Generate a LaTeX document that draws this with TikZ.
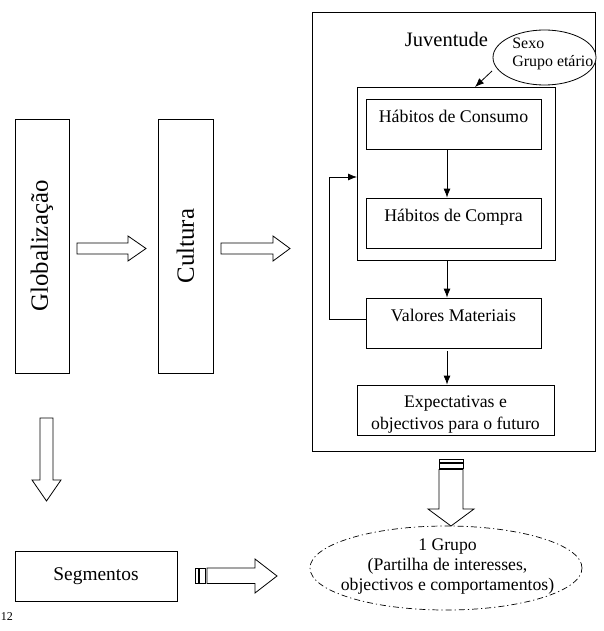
\documentclass[tikz,border=0pt]{standalone}
\usepackage{fontspec}
\setmainfont{Liberation Serif}
\usetikzlibrary{arrows.meta,shapes.geometric}
\begin{document}
\begin{tikzpicture}[x=1pt,y=-1pt, line width=0.8pt,
  box/.style={draw, rectangle, inner sep=0pt},
  stepbox/.style={draw, rectangle, inner xsep=0pt, inner ysep=0pt, minimum width=175pt,
    text height=23.5pt, text depth=26.5pt, font=\fontsize{17.8}{20}\selectfont},
  thinarrow/.style={-{Latex[length=9pt,width=7pt]}, line width=0.8pt},
  blockarrow/.style={draw, fill=white, line width=0.8pt, line join=miter},
  stripe/.style={draw, line width=0.7pt},
  txt/.style={font=\fontsize{17.7}{20}\selectfont},
  small/.style={font=\fontsize{15.9}{18.5}\selectfont}]
\useasboundingbox (0,0) rectangle (604,631);

% left column
\node[box, minimum width=54pt, minimum height=254pt] (glob) at (42,246)
  {\rotatebox{90}{\fontsize{24.8}{28}\selectfont Globaliza\c{c}\~ao}};
\node[box, minimum width=55pt, minimum height=254pt] (cult) at (185.5,246)
  {\rotatebox{90}{\fontsize{24.8}{28}\selectfont Cultura}};

% block arrows
\draw[blockarrow] (77,243) -- (128,243) -- (128,236) -- (146,248.5) -- (128,261) -- (128,254) -- (77,254) -- cycle;
\draw[blockarrow] (221,243) -- (273,243) -- (273,236) -- (290,248.5) -- (273,261) -- (273,254) -- (221,254) -- cycle;

% Juventude box
\node[box, minimum width=283pt, minimum height=439pt] (juv) at (453.5,231.5) {};
\node[anchor=base, font=\fontsize{20.5}{24}\selectfont] (juvt) at (446.5,46.7) {Juventude};

\node[draw, ellipse, fill=white, minimum width=103pt, minimum height=55pt, inner sep=0pt] (sex) at (544.5,57.5) {};
\node[small, anchor=base west, inner sep=0pt] (sexo) at (512,48.3) {Sexo};
\node[small, anchor=base west, inner sep=0pt] (grupoet) at (512,66.7) {Grupo et\'ario};
\coordinate (sa) at (492,71);
\coordinate (ta) at (475,87);
\draw[thinarrow] (sa) -- (ta);

\node[box, minimum width=198pt, minimum height=173pt] (grp) at (456,173.5) {};
\node[stepbox] (hcons) at (453.5,124) {H\'abitos de Consumo};
\node[stepbox] (hcomp) at (453.5,223) {H\'abitos de Compra};
\node[stepbox] (val) at (453.5,323) {Valores Materiais};
\node[box, minimum width=197pt, minimum height=50pt] (ex) at (455.5,410) {};
\begin{scope}
  \clip ([yshift=2pt]ex.south west) rectangle (ex.north east);
  \node[txt, anchor=base, inner sep=0pt] (ex1) at (455.5,407.7) {Expectativas e};
  \node[txt, anchor=base, inner sep=0pt] (ex2) at (455.5,429) {objectivos para o futuro};
\end{scope}

\coordinate (ax) at (447,0);
\draw[thinarrow] (hcons.south -| ax) -- (hcomp.north -| ax);
\draw[thinarrow] (grp.south -| ax) -- (val.north -| ax);
\draw[thinarrow] ([yshift=-3pt]val.south -| ax) -- (ex.north -| ax);
\coordinate (fb) at (357,177);
\draw[thinarrow] ([yshift=4pt]val.west) -- ++(-36,0) |- (fb);

% bottom left
\draw[blockarrow] (40,418) -- (53,418) -- (53,480) -- (61,480) -- (46.5,501) -- (32,480) -- (40,480) -- cycle;
\node[box, minimum width=162pt, minimum height=50pt, font=\fontsize{19.4}{23}\selectfont] (seg) at (96,576) {Segmentos};

% striped right arrow
\draw[stripe] (195,568) rectangle (198,583.5);
\draw[stripe] (199.5,568) rectangle (205,583.5);
\draw[blockarrow] (207,568) -- (255,568) -- (255,559) -- (277,576) -- (255,593) -- (255,583.5) -- (207,583.5) -- cycle;

% striped down arrow
\draw[stripe] (439,459) rectangle (463,462);
\draw[stripe] (439,463.5) rectangle (463,468);
\draw[blockarrow] (439,469.5) -- (463,469.5) -- (463,509) -- (474,509) -- (451,526) -- (428,509) -- (439,509) -- cycle;

% group ellipse
\node[draw, ellipse, dash pattern=on 6pt off 3pt on 1.2pt off 3pt, line width=0.7pt,
  minimum width=272pt, minimum height=84pt, inner sep=0pt] (grupo) at (446,568) {};
\node[txt, anchor=base, inner sep=0pt] (g1) at (447.5,550) {1 Grupo};
\node[txt, anchor=base, inner sep=0pt] (g2) at (447.5,570) {(Partilha de interesses,};
\node[txt, anchor=base, inner sep=0pt] (g3) at (447.5,590) {objectivos e comportamentos)};

% page number
\node[anchor=base west, inner sep=0pt, font=\fontsize{12}{14}\selectfont] (pg) at (0.5,620) {12};
\end{tikzpicture}
\end{document}
